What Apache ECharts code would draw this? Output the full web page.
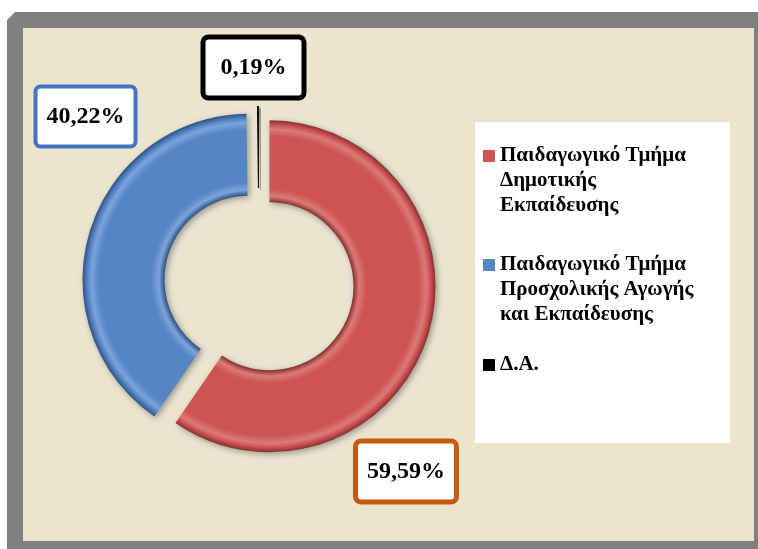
<!DOCTYPE html>
<html>
<head>
<meta charset="utf-8">
<script src="https://cdn.jsdelivr.net/npm/echarts@6/dist/echarts.min.js"></script>
<style>
html,body{margin:0;padding:0;background:#ffffff;}
#chart{width:758px;height:549px;}
</style>
</head>
<body>
<div id="chart"></div>
<script>
// ---- data ----
const categories = [
  "Παιδαγωγικό Τμήμα Δημοτικής Εκπαίδευσης",
  "Παιδαγωγικό Τμήμα Προσχολικής Αγωγής και Εκπαίδευσης",
  "Δ.Α."
];
const legendLabels = [
  "Παιδαγωγικό Τμήμα\nΔημοτικής\nΕκπαίδευσης",
  "Παιδαγωγικό Τμήμα\nΠροσχολικής Αγωγής\nκαι Εκπαίδευσης",
  "Δ.Α."
];
const values = [59.59, 40.22, 0.19];

// ---- styling ----
const baseColors = ["#cd5452", "#5585c4", "#000000"];
const rimDark = ["#86302e", "#2d5184", "#000000"];
const rimLight = ["#dc7a77", "#7ba4da", "#000000"];
const labelBorder = ["#c55a11", "#4472c4", "#000000"];
const labelBorderW = [5, 4, 5];
const labelPadH = [9, 9, 15];
const labelCenters = [[406, 471.5], [85.5, 116.5], [253.5, 67.5]];
const CX = 259, CY = 283, R_IN = 84, R_OUT = 166;

function fillFor(i) {
  if (i === 2) return baseColors[2];
  const f = R_IN / R_OUT;
  return {
    type: 'radial', x: CX, y: CY, r: R_OUT, global: true,
    colorStops: [
      {offset: 0, color: rimDark[i]},
      {offset: f, color: rimDark[i]},
      {offset: f + 0.035, color: rimLight[i]},
      {offset: f + 0.08, color: baseColors[i]},
      {offset: 0.9, color: baseColors[i]},
      {offset: 0.945, color: rimLight[i]},
      {offset: 0.97, color: baseColors[i]},
      {offset: 1, color: rimDark[i]}
    ]
  };
}

const fmt = v => v.toFixed(2).replace('.', ',') + '%';

const ringData = categories.map((name, i) => {
  const st = {
    color: fillFor(i),
    shadowBlur: i === 2 ? 0 : 6,
    shadowColor: 'rgba(0,0,0,0.35)',
    shadowOffsetX: 2,
    shadowOffsetY: 2
  };
  return {name: name, value: values[i], selected: true, itemStyle: st, select: {itemStyle: st}};
});

const labelData = categories.map((name, i) => ({
  name: name,
  value: values[i],
  label: {
    borderColor: labelBorder[i],
    borderWidth: labelBorderW[i],
    padding: [15, labelPadH[i]]
  }
}));

const legendTop = [93.5, 202.5, 352.5];
const legends = categories.map((name, i) => ({
  show: true,
  orient: 'vertical',
  left: 483,
  top: legendTop[i],
  padding: 0,
  itemWidth: 12,
  itemHeight: 12,
  itemGap: 0,
  icon: 'rect',
  selectedMode: false,
  data: [{name: name, itemStyle: {color: baseColors[i]}}],
  formatter: () => (i < 2 ? ' \n \n' : '') + legendLabels[i],
  textStyle: {
    fontFamily: 'Liberation Serif',
    fontWeight: 'bold',
    fontSize: 21,
    lineHeight: 25,
    color: '#000'
  }
}));

const chart = echarts.init(document.getElementById('chart'), null, {renderer: 'canvas'});
chart.setOption({
  animation: false,
  backgroundColor: '#ffffff',
  graphic: [
    {type: 'polygon', z: -10, shape: {points: [[7, 20], [15, 12], [758, 12], [758, 549], [7, 549]]}, style: {fill: '#808080'}},
    {type: 'rect', z: -9, shape: {x: 23, y: 28, width: 731, height: 513}, style: {fill: '#ebe5d0'}},
    {type: 'rect', z: -8, shape: {x: 475, y: 122, width: 255, height: 321}, style: {fill: '#ffffff'}}
  ],
  legend: legends,
  series: [{
    type: 'pie',
    center: [CX, CY],
    radius: [R_IN, R_OUT],
    startAngle: 90,
    clockwise: true,
    selectedMode: 'multiple',
    selectedOffset: 11,
    emphasis: {disabled: true},
    label: {show: false},
    labelLine: {show: false},
    data: ringData
  }, {
    type: 'pie',
    z: 5,
    silent: true,
    center: [CX, CY],
    radius: [R_IN, R_OUT],
    startAngle: 90,
    clockwise: true,
    selectedMode: false,
    avoidLabelOverlap: false,
    emphasis: {disabled: true},
    itemStyle: {color: 'rgba(0,0,0,0)'},
    label: {
      show: true,
      position: 'outside',
      formatter: p => fmt(p.value),
      fontFamily: 'Liberation Serif',
      fontWeight: 'bold',
      fontSize: 24,
      lineHeight: 26,
      color: '#000',
      backgroundColor: '#ffffff',
      borderRadius: 3
    },
    labelLine: {show: false},
    labelLayout: function (p) {
      const c = labelCenters[p.dataIndex];
      return {x: c[0], y: c[1], align: 'center', verticalAlign: 'middle'};
    },
    data: labelData
  }]
});
</script>
</body>
</html>
